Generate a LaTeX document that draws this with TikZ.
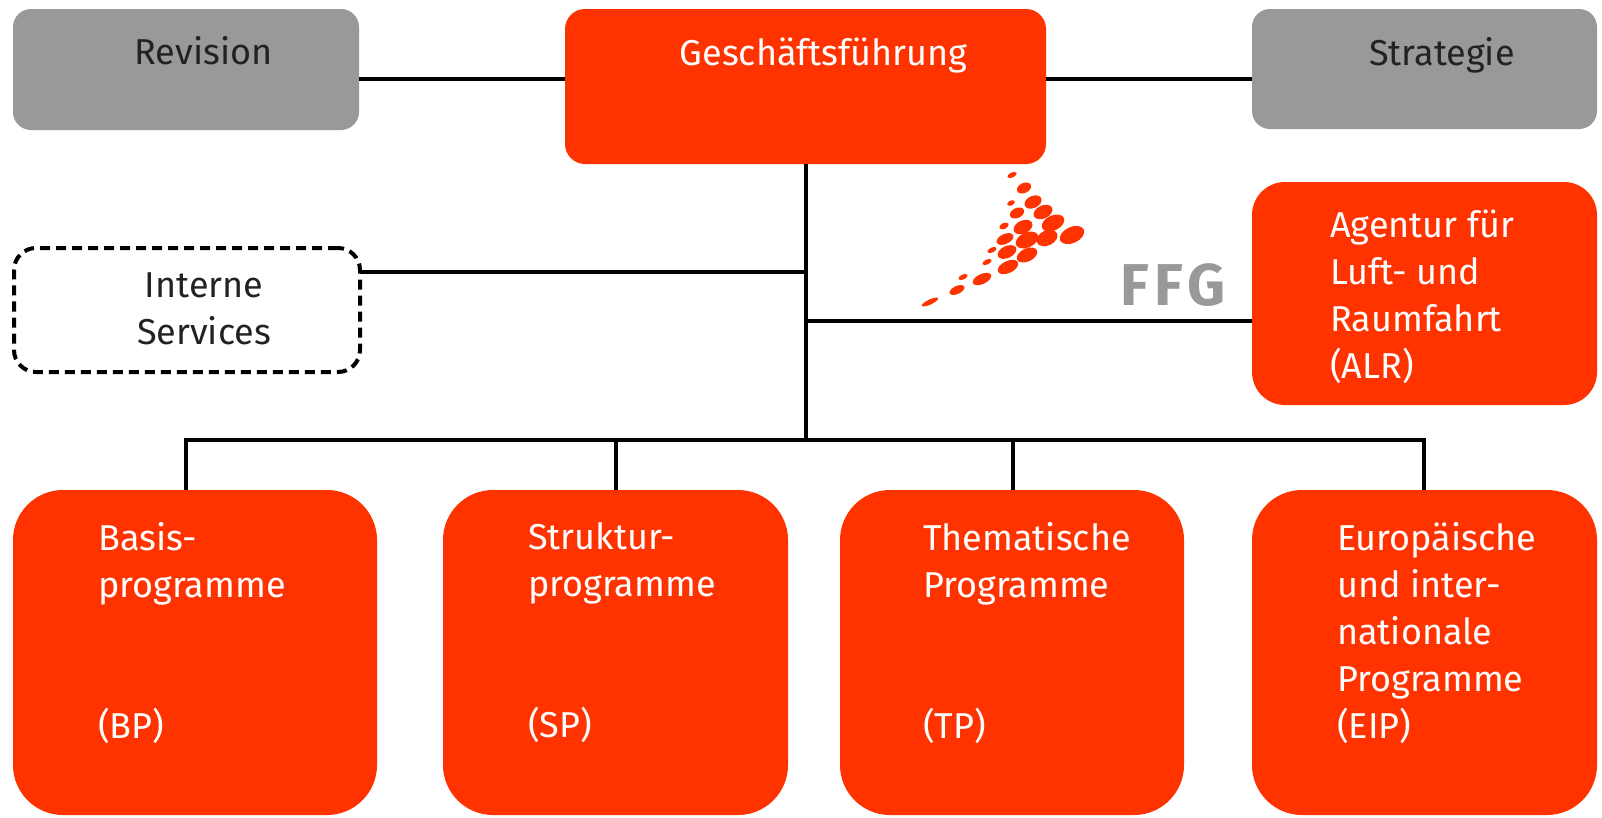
\documentclass[tikz,border=0pt]{standalone}
\usepackage{fontspec}
\setmainfont{Fira Sans}
\definecolor{ffred}{HTML}{FF3300}
\definecolor{ffgray}{HTML}{999999}
\definecolor{darktext}{HTML}{222222}
\begin{document}
\begin{tikzpicture}[x=1pt,y=-1pt,
  base/.style={anchor=north west, inner sep=0pt, outer sep=0pt},
  redbox/.style={base, fill=ffred, draw=none},
  graybox/.style={base, fill=ffgray, draw=none, rounded corners=18pt},
  dashbox/.style={base, draw=black, line width=4pt, dash pattern=on 10pt off 6pt, rounded corners=22pt},
  lbl/.style={inner sep=0pt, font=\fontsize{36}{47}\selectfont},
  mlbl/.style={lbl, anchor=north west, align=left, text=white, execute at begin node=\strut},
  conn/.style={line width=4.5pt, draw=black}
]
\useasboundingbox (0,0) rectangle (1602,817);

% top row
\node[graybox, minimum width=346pt, minimum height=121pt] (rev) at (13,9) {};
\node[redbox, rounded corners=20pt, minimum width=481pt, minimum height=155pt] (gf) at (565,9) {};
\node[graybox, minimum width=345pt, minimum height=120pt] (str) at (1252,9) {};
\node[lbl, anchor=base, text=darktext] (revt) at (203.5,64) {Revision};
\node[lbl, anchor=base, text=white] (gft) at (823.5,65) {Geschäftsführung};
\node[lbl, anchor=base, text=darktext] (strt) at (1442,65) {Strategie};

% middle
\node[dashbox, minimum width=346pt, minimum height=124pt] (is) at (14,248) {};
\node[lbl, anchor=north, align=center, text=darktext, execute at begin node=\strut] (ist) at (204,272.1) {Interne\\Services};
\node[redbox, rounded corners=33pt, minimum width=345pt, minimum height=223pt] (alr) at (1252,182) {};
\node[mlbl] (alrt) at (1330,210.1) {Agentur für\\Luft- und\\Raumfahrt\\(ALR)};

% bottom
\node[redbox, rounded corners=50pt, minimum width=364pt, minimum height=325pt] (bp) at (13,490) {};
\node[redbox, rounded corners=50pt, minimum width=345pt, minimum height=325pt] (sp) at (443,490) {};
\node[redbox, rounded corners=50pt, minimum width=344pt, minimum height=325pt] (tp) at (840,490) {};
\node[redbox, rounded corners=50pt, minimum width=345pt, minimum height=325pt] (eip) at (1252,490) {};
\node[mlbl] (bpt) at (98,522.1) {Basis-\\programme\\[94pt](BP)};
\node[mlbl] (spt) at (528,522.1) {Struktur-\\programme\\[94pt](SP)};
\node[mlbl] (tpt) at (923,522.1) {Thematische\\Programme\\[94pt](TP)};
\node[mlbl] (eipt) at (1337,522.1) {Europäische\\und inter-\\nationale\\Programme\\(EIP)};

% FFG logo
\node[inner sep=0pt, anchor=base west, text=ffgray, font=\fontsize{59}{59}\selectfont\bfseries\addfontfeature{LetterSpace=9}] (ffg) at (1120,305) {FFG};
\foreach \px/\py/\rx/\ry in {1012/175/5/2.5, 1024/188/7.5/5, 1011/203/4/2.5, 1033/202/9/6,
  1017/213/7.5/5, 1043/212/10/6.5, 1004/226/5/3, 1023/227/10/6.5, 1053/223/12/7.5,
  1005/239/9/5, 1027/240/12/7.5, 1047/238/11/7.5, 1072/235/13/8,
  992/250/5/2.5, 1007/252/10/6, 1027/255/11/6.5, 987/262/5/2.5, 1008/267/11/6,
  963/277/5/2.5, 982/279/10/5, 957/290/8/4, 930/302/9/2.5}
  \fill[ffred] (\px,\py) ellipse [x radius=\rx pt, y radius=\ry pt, rotate=25];

% connectors
\coordinate (rowtop) at (0,79);
\coordinate (jis) at (806,272);
\coordinate (jalr) at (806,321);
\coordinate (bus) at (806,440);
\coordinate (d1) at (186,440);
\coordinate (d2) at (616,440);
\coordinate (d3) at (1013,440);
\coordinate (d4) at (1424,440);

\draw[conn] (rev.east |- rowtop) -- (gf.west |- rowtop);
\draw[conn] (gf.east |- rowtop) -- (str.west |- rowtop);
\draw[conn] (gf.south -| bus) -- (bus);
\draw[conn] (is.east |- jis) -- (jis);
\draw[conn] (jalr) -- (alr.west |- jalr);
\draw[conn] (d1 |- bp.north) -- (d1) -- (d4) -- (d4 |- eip.north);
\draw[conn] (d2) -- (d2 |- sp.north);
\draw[conn] (d3) -- (d3 |- tp.north);
\end{tikzpicture}
\end{document}
